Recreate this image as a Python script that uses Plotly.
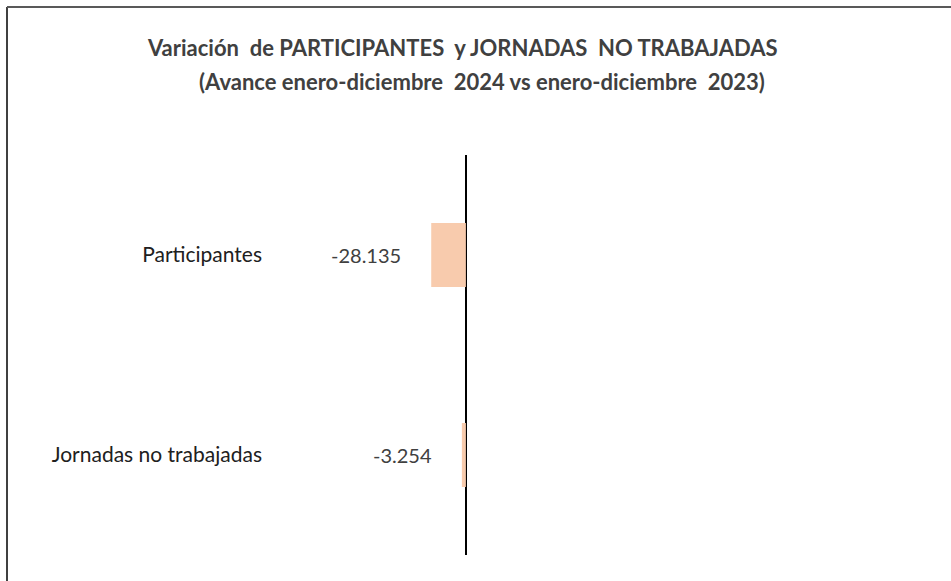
import plotly.graph_objects as go

categories = ["Participantes", "Jornadas no trabajadas"]
values = [-28135, -3254]
value_labels = ["-28.135", "-3.254"]

W, H = 951, 581
L, R, T, B = 275, 11, 155, 26
pw = W - L - R
ph = H - T - B

def px_x(p):
    return (p - L) / pw

def px_y(p):
    return 1 - (p - T) / ph

fig = go.Figure()
fig.add_trace(go.Bar(
    y=categories, x=values, orientation="h",
    marker=dict(color="#F8CBAD", line=dict(width=0)),
    width=0.32, hoverinfo="skip",
))

for cat, v, lab in zip(categories, values, value_labels):
    fig.add_annotation(x=v, y=cat, text=lab, showarrow=False, xanchor="right",
                       xshift=-28, font=dict(family="Lato", size=20, color="#404040"))

fig.add_annotation(xref="paper", yref="paper", x=px_x(462), y=px_y(48),
                   text="<b>Variación  de PARTICIPANTES  y JORNADAS  NO TRABAJADAS</b>",
                   showarrow=False, xanchor="center", yanchor="middle",
                   font=dict(family="Lato", size=22, color="#404040"))
fig.add_annotation(xref="paper", yref="paper", x=px_x(482), y=px_y(82),
                   text="<b>(Avance enero-diciembre  2024 vs enero-diciembre  2023)</b>",
                   showarrow=False, xanchor="center", yanchor="middle",
                   font=dict(family="Lato", size=22, color="#404040"))

# outer border (left and top edges visible)
fig.add_shape(type="line", xref="paper", yref="paper", x0=px_x(7), x1=px_x(7),
              y0=px_y(7), y1=px_y(620), line=dict(color="#404040", width=2))
fig.add_shape(type="line", xref="paper", yref="paper", x0=px_x(7), x1=px_x(990),
              y0=px_y(7), y1=px_y(7), line=dict(color="#595959", width=2))

fig.update_layout(
    width=W, height=H,
    margin=dict(l=L, r=R, t=T, b=B),
    paper_bgcolor="white", plot_bgcolor="white",
    showlegend=False,
    xaxis=dict(range=[-155000, 385000], showgrid=False, showticklabels=False,
               ticks="", zeroline=True, zerolinecolor="black", zerolinewidth=1.5,
               fixedrange=True),
    yaxis=dict(autorange="reversed", showgrid=False, ticks="", showline=False,
               zeroline=False, ticklabelstandoff=12,
               tickfont=dict(family="Lato", size=21, color="#202020")),
)

fig.write_html("out.html", config={"displayModeBar": False},
               post_script="document.body.style.margin='0';")
